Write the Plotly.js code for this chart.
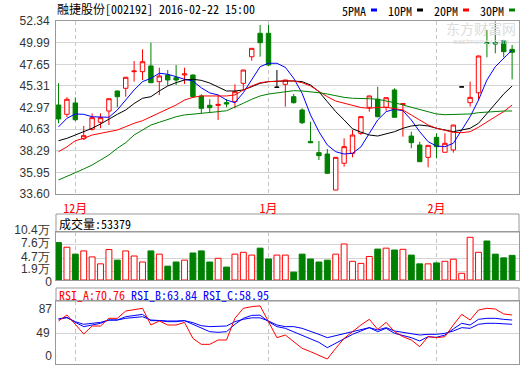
<!DOCTYPE html>
<html><head><meta charset="utf-8">
<script src="https://cdn.plot.ly/plotly-3.0.1.min.js"></script>
<style>html,body{margin:0;padding:0;background:#fff;}#chart{width:520px;height:365px;}</style>
</head><body><div id="chart"></div>
<script>
// ---- data ----
const monthTicks = [2, 25, 45];
const monthLabels = ['12月', '1月', '2月'];
const openP  = [43.24,42.23,43.46,39.59,40.61,41.37,42.59,44.76,45.05,46.85,46.85,47.47,45.77,46.49,46.20,46.50,46.49,44.22,43.21,43.20,43.50,43.60,45.59,48.47,51.01,51.01,45.16,45.48,44.14,42.70,39.30,38.08,37.93,34.03,36.93,38.00,40.17,42.99,43.86,42.99,44.87,43.30,39.88,38.91,37.57,39.74,38.12,38.37,45.20,43.49,44.57,50.00,50.00,50.21,49.27];
const highP  = [45.59,44.08,44.07,40.97,42.34,42.34,43.95,44.80,46.30,48.01,49.27,49.99,47.28,47.03,47.57,47.28,46.55,44.40,43.86,44.33,43.86,45.48,47.05,49.40,51.91,51.91,47.03,45.95,44.43,42.88,41.43,39.34,38.48,37.60,39.63,40.53,42.00,44.25,45.22,44.10,45.05,43.40,40.35,39.27,38.90,40.17,40.17,41.10,45.20,45.77,48.60,51.37,52.30,50.30,49.74];
const lowP   = [41.26,41.94,41.50,39.45,40.46,40.72,41.07,42.99,44.14,45.77,45.95,45.60,44.33,45.33,45.41,45.52,44.00,42.34,42.41,41.62,42.99,42.88,44.87,48.04,48.47,47.50,45.16,43.06,43.40,41.18,39.15,37.28,35.80,34.00,36.56,37.57,40.00,42.52,41.90,42.62,41.91,39.81,38.55,37.10,36.49,37.47,38.10,38.08,45.20,43.06,43.78,48.41,48.84,48.41,46.02];
const closeP = [41.73,43.86,41.65,39.92,41.87,41.87,43.92,44.14,46.24,46.92,47.93,45.66,46.38,45.95,45.95,46.60,44.14,42.88,42.95,43.30,43.35,44.68,47.03,49.38,49.99,47.57,45.16,45.95,43.49,41.32,39.15,37.75,35.84,37.57,38.73,39.99,41.98,44.22,41.98,44.03,41.91,43.38,39.16,37.10,38.87,38.73,39.09,41.07,45.20,44.07,48.55,49.90,49.85,49.02,48.95];
const ma5  = [40.87,41.80,42.27,42.23,41.97,41.91,41.91,42.70,43.78,44.87,45.77,46.13,46.68,46.57,46.31,46.03,45.84,45.10,44.55,44.33,43.78,43.49,44.57,45.95,47.39,47.76,47.76,47.32,46.13,44.51,42.16,40.35,38.91,38.18,37.93,38.01,38.70,40.17,41.62,42.52,42.77,42.62,41.62,40.35,39.27,38.80,38.73,39.09,40.53,41.97,43.78,45.95,47.39,48.30,49.20];
const ma10 = [39.37,39.63,39.99,40.35,40.72,41.18,41.73,42.23,42.70,43.40,43.97,44.14,44.76,45.30,45.66,45.95,46.03,45.91,45.62,45.22,44.76,44.76,44.87,45.22,45.59,45.77,45.84,45.84,45.84,45.77,45.41,44.68,43.60,42.52,41.62,40.66,40.30,39.99,39.88,40.10,40.35,40.72,40.97,41.07,40.97,40.72,40.53,40.35,40.53,40.72,41.26,42.34,43.43,44.43,45.30];
const ma20 = [38.18,38.70,39.37,39.63,39.99,40.17,40.35,40.53,40.89,41.26,41.54,41.97,42.34,42.77,43.24,43.78,44.07,44.22,44.22,44.22,44.22,44.33,44.87,45.30,45.66,45.77,45.84,45.87,45.84,45.66,45.30,44.68,44.14,43.67,43.43,43.13,42.97,42.88,42.99,42.99,42.88,42.70,42.16,41.62,41.07,40.72,40.53,40.28,40.24,40.35,40.83,41.43,41.97,42.52,43.24];
const ma30 = [35.12,35.48,35.91,36.31,36.74,37.28,37.83,38.55,39.16,39.99,40.53,41.07,41.37,41.69,41.97,42.16,42.27,42.34,42.41,42.52,42.62,42.99,43.43,43.86,44.22,44.43,44.57,44.68,44.79,44.76,44.68,44.57,44.43,44.22,44.07,43.97,43.97,43.92,43.86,43.71,43.49,43.24,42.99,42.70,42.45,42.27,42.19,42.19,42.23,42.27,42.41,42.48,42.52,42.59,42.59];
const volume = [8.1,7.1,5.6,6.3,5.0,3.5,6.6,4.3,6.3,5.2,3.9,6.3,5.6,3.0,3.9,4.3,5.85,6.3,3.9,4.7,2.8,5.6,6.0,5.4,6.9,4.55,5.4,5.4,1.7,5.6,4.55,3.9,4.3,5.6,7.8,4.05,3.6,5.1,6.7,6.9,6.5,6.65,5.4,3.5,3.5,3.7,4.05,4.5,1.45,9.25,6.0,8.45,5.6,4.8,5.34];
const rsiA = [68.3,77.8,63.0,47.6,60.3,60.3,72.5,72.5,84.1,86.8,88.4,61.9,68.3,61.9,61.9,66.1,40.7,31.2,31.2,38.1,38.1,72.5,88.4,91.0,92.3,67.2,41.8,46.0,35.4,24.9,19.6,14.3,7.9,24.9,40.7,51.3,61.9,70.9,55.0,66.1,51.3,43.4,38.1,27.5,43.4,41.8,43.4,61.9,78.8,69.8,85.7,88.4,87.3,79.4,77.8];
const rsiB = [71.4,74.1,66.1,59.3,61.9,64.6,69.8,69.8,75.1,76.7,78.8,68.8,68.8,67.2,67.2,68.8,63.0,56.6,51.3,50.3,51.3,63.0,72.5,77.2,77.5,67.2,59.3,56.6,51.3,46.0,39.7,34.4,25.9,32.8,40.7,47.1,52.4,57.7,51.3,56.6,48.7,45.0,41.8,36.5,43.4,42.3,46.0,55.6,64.6,61.9,70.9,72.5,72.5,70.9,69.8];
const rsiC = [71.4,73.5,67.2,63.0,64.6,66.1,69.8,69.8,72.5,74.1,75.1,69.8,68.8,68.3,68.3,68.8,65.6,60.8,59.3,59.3,60.3,67.2,70.9,73.3,73.3,68.3,61.9,59.3,59.3,56.6,52.4,47.1,41.8,45.0,48.7,51.3,54.0,57.7,54.0,57.7,52.4,50.3,48.7,46.0,47.1,47.1,48.7,52.4,57.7,56.6,63.0,64.6,64.6,63.5,63.0];
const priceTicks = [33.60,35.95,38.29,40.63,42.97,45.31,47.65,49.99,52.34];
const priceTickText = ['33.60','35.95','38.29','40.63','42.97','45.31','47.65','49.99','52.34'];
const volTicks = [1.9,4.7,7.6,10.4];
const volTickText = ['1.9万','4.7万','7.6万','10.4万'];
const headerTitle = '融捷股份[002192] 2016-02-22 15:00';
const volHeader = '成交量:53379';
const rsiHeader = {A:'RSI_A:70.76', B:'RSI_B:63.84', C:'RSI_C:58.95'};

// ---- helpers ----
const W = 520, H = 365, L = 56, R = 1;
const PW = W - L - R;
const py = p => 1 - p / H;          // pixel row -> paper y
const px = p => (p - L) / PW;       // pixel col -> paper x
const RED = '#ff0000', GREEN = '#008000', BLUE = '#0000ff', BLACK = '#000000';
const MONO = '"Noto Sans Mono CJK SC", "Noto Sans CJK SC", "DejaVu Sans Mono", monospace';
const SANS = '"Liberation Sans", Arial, sans-serif';

const idx = openP.map((_, i) => i);
const moving = idx.filter(i => openP[i] !== closeP[i]);
const flat = idx.filter(i => openP[i] === closeP[i]);
const upDays = idx.filter(i => closeP[i] >= openP[i]);
const downDays = idx.filter(i => closeP[i] < openP[i]);
const pick = (arr, ids) => ids.map(i => arr[i]);

const traces = [
  {type:'candlestick', x: moving, open: pick(openP, moving), high: pick(highP, moving),
   low: pick(lowP, moving), close: pick(closeP, moving), xaxis:'x', yaxis:'y',
   increasing:{line:{color:RED, width:1}, fillcolor:'#ffffff'},
   decreasing:{line:{color:GREEN, width:1}, fillcolor:GREEN},
   whiskerwidth:0, hoverinfo:'none', showlegend:false},
  {type:'candlestick', x: flat, open: pick(openP, flat), high: pick(highP, flat),
   low: pick(lowP, flat), close: pick(closeP, flat), xaxis:'x', yaxis:'y',
   increasing:{line:{color:BLACK, width:1}, fillcolor:BLACK},
   decreasing:{line:{color:BLACK, width:1}, fillcolor:BLACK},
   whiskerwidth:0, hoverinfo:'none', showlegend:false},
  {type:'scatter', mode:'lines', x: idx, y: ma5, line:{color:BLUE, width:1}, xaxis:'x', yaxis:'y', hoverinfo:'none', showlegend:false, name:'5PMA'},
  {type:'scatter', mode:'lines', x: idx, y: ma10, line:{color:BLACK, width:1}, xaxis:'x', yaxis:'y', hoverinfo:'none', showlegend:false, name:'10PM'},
  {type:'scatter', mode:'lines', x: idx, y: ma20, line:{color:RED, width:1}, xaxis:'x', yaxis:'y', hoverinfo:'none', showlegend:false, name:'20PM'},
  {type:'scatter', mode:'lines', x: idx, y: ma30, line:{color:GREEN, width:1}, xaxis:'x', yaxis:'y', hoverinfo:'none', showlegend:false, name:'30PM'},
  {type:'bar', x: upDays, y: pick(volume, upDays), width: 0.7, xaxis:'x', yaxis:'y2', hoverinfo:'none', showlegend:false,
   marker:{color:'#ffffff', line:{color:RED, width:1}}},
  {type:'bar', x: downDays, y: pick(volume, downDays), width: 0.7, xaxis:'x', yaxis:'y6', hoverinfo:'none', showlegend:false,
   marker:{color:GREEN, line:{color:GREEN, width:1}}},
  {type:'scatter', mode:'lines', x: idx, y: rsiC, line:{color:BLUE, width:1}, xaxis:'x', yaxis:'y3', hoverinfo:'none', showlegend:false},
  {type:'scatter', mode:'lines', x: idx, y: rsiB, line:{color:BLUE, width:1}, xaxis:'x', yaxis:'y4', hoverinfo:'none', showlegend:false},
  {type:'scatter', mode:'lines', x: idx, y: rsiA, line:{color:RED, width:1}, xaxis:'x', yaxis:'y5', hoverinfo:'none', showlegend:false}
];

const frame = '#999999', grid = '#d4d4d4';
const yBase = {showline:true, mirror:true, linecolor:frame, linewidth:1, zeroline:false,
  ticks:'', showgrid:true, gridcolor:grid, gridwidth:1, fixedrange:true, ticklabeloverflow:'allow',
  tickfont:{family:SANS, size:12, color:'#333333'}, ticklabelstandoff:3};

const legendItems = [
  {label:'5PMA', x:340, sw:371, color:BLUE},
  {label:'10PM', x:386, sw:417, color:BLACK},
  {label:'20PM', x:432, sw:463, color:RED},
  {label:'30PM', x:478, sw:509, color:GREEN}
];

const annotations = [
  {text: volHeader, xref:'paper', yref:'paper', x: px(57), y: py(223.5), xanchor:'left', yanchor:'middle',
   showarrow:false, font:{family:MONO, size:12, color:BLACK}},
  {text: `<span style="color:${RED}">${rsiHeader.A}</span> <span style="color:${BLUE}">${rsiHeader.B}</span> <span style="color:${BLUE}">${rsiHeader.C}</span>`,
   xref:'paper', yref:'paper', x: px(56.5), y: py(294.5), xanchor:'left', yanchor:'middle',
   showarrow:false, font:{family:MONO, size:12, color:RED}},
  {text:'东方财富网', xref:'paper', yref:'paper', x: px(518), y: py(28.5), xanchor:'right', yanchor:'middle',
   showarrow:false, font:{family:'"Noto Sans CJK SC", sans-serif', size:14, color:'#dcdcdc'}},
  {text:'eastmoney.com', xref:'paper', yref:'paper', x: px(511), y: py(42), xanchor:'right', yanchor:'middle',
   showarrow:false, font:{family:SANS, size:8, color:'#dcdcdc'}}
].concat(legendItems.map(it => ({text: it.label, xref:'paper', yref:'paper', x: px(it.x), y: py(10),
   xanchor:'left', yanchor:'middle', showarrow:false, font:{family:MONO, size:12, color:BLACK}})));

const shapes = [
  {type:'rect', xref:'paper', yref:'paper', x0:0, x1:1, y0: py(232), y1: py(214), line:{color:frame, width:1}, layer:'below'},
  {type:'rect', xref:'paper', yref:'paper', x0:0, x1:1, y0: py(301), y1: py(288), line:{color:frame, width:1}, layer:'below'}
].concat(legendItems.map(it => ({type:'rect', xref:'paper', yref:'paper', x0: px(it.sw), x1: px(it.sw + 6),
   y0: py(11.5), y1: py(8.5), fillcolor: it.color, line:{width:0}})));

const rsiOverlay = {anchor:'x', range:[0, 100], showgrid:false, showline:false, overlaying:'y3'};

const layout = {
  width: W, height: H,
  margin: {l: L, r: R, t: 0, b: 0, pad: 0},
  paper_bgcolor: '#ffffff', plot_bgcolor: '#ffffff',
  showlegend: false, dragmode: false, boxgap: 0.25, barmode: 'overlay',
  title: {text: headerTitle, xref:'paper', yref:'container', x: px(57), xanchor:'left',
          y: py(9.5), yanchor:'middle', font:{family:MONO, size:12, color:BLACK}},
  xaxis: {range:[-0.3, 54.82], anchor:'y', tickvals: monthTicks, ticktext: monthLabels,
          tickfont:{family:MONO, size:12, color:RED}, ticks:'', ticklabelstandoff:4,
          showgrid:true, gridcolor:'#c4c4c4', griddash:'4px,3px', gridwidth:1,
          showline:true, mirror:'all', linecolor:frame, linewidth:1, zeroline:false,
          fixedrange:true, rangeslider:{visible:false}},
  yaxis: Object.assign({}, yBase, {domain:[py(194), py(21)], range:[33.60, 52.34],
          tickvals: priceTicks, ticktext: priceTickText}),
  yaxis2: Object.assign({}, yBase, {domain:[py(280), py(232)], range:[0, 10.4],
          tickvals: volTicks, ticktext: volTickText, ticklabelshift:-2}),
  yaxis6: Object.assign({}, yBase, {overlaying:'y2', anchor:'x', range:[0, 10.4], showgrid:false,
          showline:false, tickvals:[0], ticktext:['0'], ticklabelshift:2}),
  yaxis3: Object.assign({}, yBase, {domain:[py(364), py(301)], range:[0, 100],
          tickvals:[49], ticktext:['49']}),
  yaxis4: Object.assign({}, yBase, rsiOverlay, {tickvals:[87], ticktext:['87']}),
  yaxis5: Object.assign({}, yBase, rsiOverlay, {tickvals:[0], ticktext:['0'], ticklabelshift:-8}),
  annotations: annotations,
  shapes: shapes
};

Plotly.newPlot('chart', traces, layout, {staticPlot:true, displayModeBar:false});
</script></body></html>
